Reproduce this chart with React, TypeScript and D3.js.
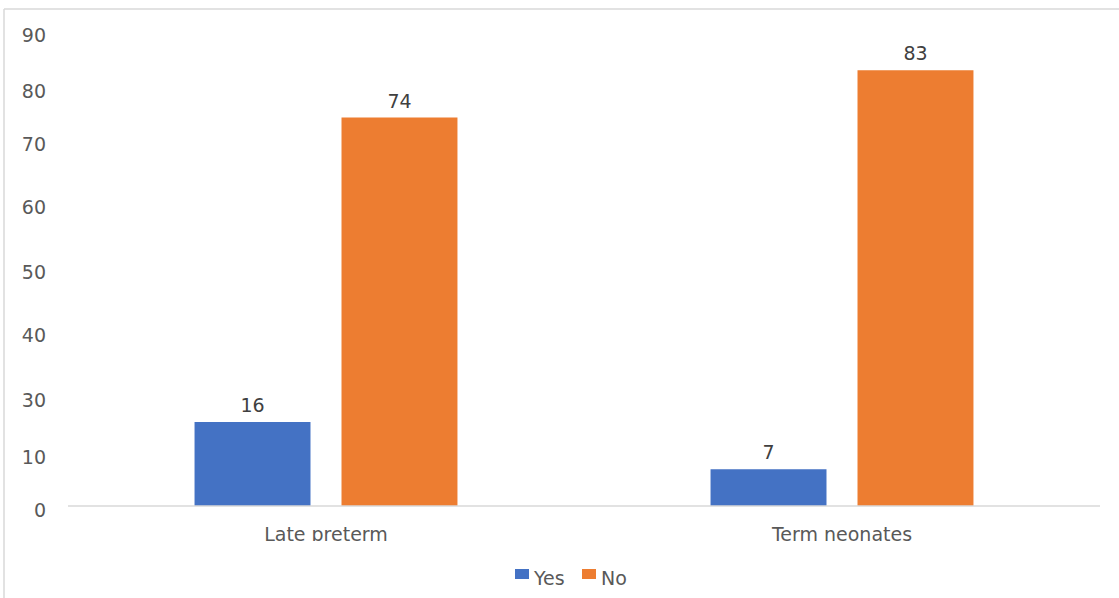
import React from "react";
import * as d3 from "d3";

// chart data
const categories = ["Late preterm", "Term neonates"];
const series = ["Yes", "No"];
const yesValues = [16, 7];
const noValues = [74, 83];
const colors = ["#4472C4", "#ED7D31"];

// y tick labels as printed, and where each label sits on the value axis
const yTickLabels = ["0", "10", "30", "40", "50", "60", "70", "80", "90"];
const yTickAt = [0, 10.1, 21.0, 33.3, 45.3, 57.6, 69.7, 79.8, 90.5];

const width = 1119;
const height = 598;
const font = "'DejaVu Sans', sans-serif";

const App = () => {
  const left = 68;
  const right = 1100;
  const base = 506;

  const x0 = d3.scaleBand().domain(categories).range([left, right]).padding(0);
  const x1 = d3
    .scaleBand()
    .domain(series)
    .range([0, x0.bandwidth()])
    .paddingInner(0.211)
    .paddingOuter(0.861);
  const y = d3.scaleLinear().domain([0, 90]).range([base, 33.5]);

  const values = [yesValues, noValues];

  return (
    <svg
      width={width}
      height={height}
      style={{ position: "absolute", left: 0, top: 0, background: "#fff" }}
    >
      <defs>
        <clipPath id="catclip">
          <rect x={0} y={0} width={width} height={541} />
        </clipPath>
      </defs>

      {/* frame */}
      <line x1={4} y1={9} x2={width} y2={9} stroke="#D9D9D9" strokeWidth={1.5} />
      <line x1={4} y1={9} x2={4} y2={height} stroke="#D9D9D9" strokeWidth={1.5} />

      {/* y labels, drawn a little below their tick like the original */}
      <g transform="translate(0, 4)">
        {yTickLabels.map((t, i) => (
          <text
            key={t}
            x={46}
            y={y(yTickAt[i])}
            dy="0.36em"
            textAnchor="end"
            fontFamily={font}
            fontSize={19}
            fill="#595959"
          >
            {t}
          </text>
        ))}
      </g>

      {/* bars */}
      {categories.map((c, ci) =>
        series.map((s, si) => {
          const v = values[si][ci];
          const bx = x0(c)! + x1(s)!;
          return (
            <g key={c + s}>
              <rect
                x={bx}
                y={y(v)}
                width={x1.bandwidth()}
                height={base - y(v)}
                fill={colors[si]}
              />
              <text
                x={bx + x1.bandwidth() / 2}
                y={y(v) - 10}
                textAnchor="middle"
                fontFamily={font}
                fontSize={19}
                fill="#404040"
              >
                {v}
              </text>
            </g>
          );
        })
      )}

      {/* x axis */}
      <line x1={left} y1={base} x2={right} y2={base} stroke="#D9D9D9" strokeWidth={1.5} />
      <g clipPath="url(#catclip)">
        {categories.map((c) => (
          <text
            key={c}
            x={x0(c)! + x0.bandwidth() / 2}
            y={541}
            textAnchor="middle"
            fontFamily={font}
            fontSize={19}
            fill="#595959"
          >
            {c}
          </text>
        ))}
      </g>

      {/* legend */}
      {series.map((s, i) => (
        <g key={s} transform={`translate(${515 + i * 67}, 569)`}>
          <rect x={0} y={0} width={14} height={10} fill={colors[i]} />
          <text x={19} y={16} fontFamily={font} fontSize={19} fill="#595959">
            {s}
          </text>
        </g>
      ))}
    </svg>
  );
};

export default App;
